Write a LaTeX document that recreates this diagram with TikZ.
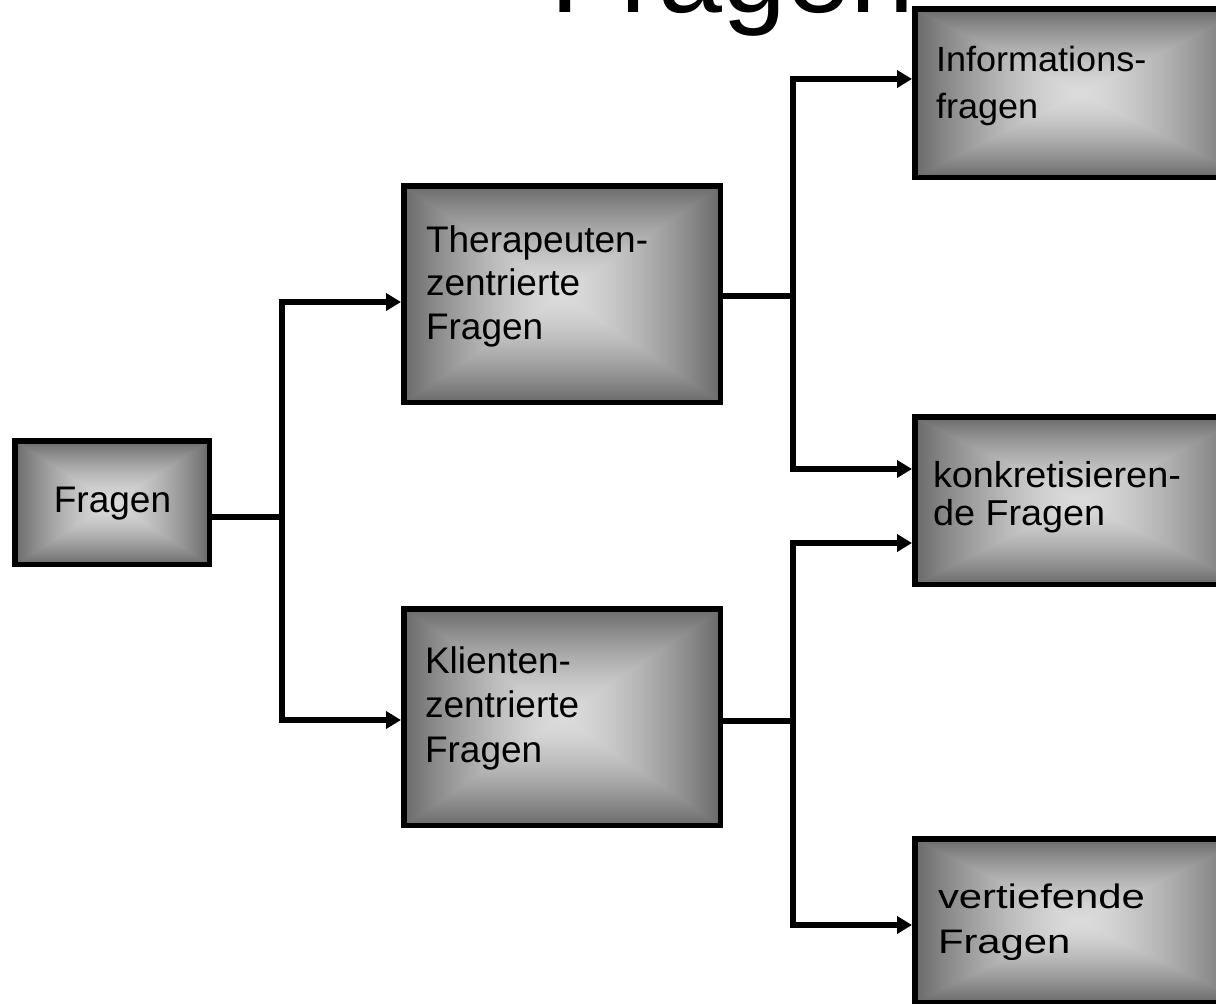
\documentclass[tikz,border=0pt]{standalone}
\usepackage{fontspec}
\setmainfont{Liberation Sans}
\usetikzlibrary{arrows.meta}

% Rectangular "from centre" glow: light in the middle, darker towards every edge,
% with the isolines being rectangles similar to the box.
\pgfdeclarefunctionalshading{boxglow}{\pgfpointorigin}{\pgfpoint{100bp}{100bp}}{}{
  50 sub abs exch 50 sub abs
  2 copy lt {exch} if pop
  25 div dup 1 gt {pop 1} if
  dup sqrt mul
  -0.445 mul 0.86 add
  dup dup
}

\tikzset{
  box/.style={draw=black, line width=5.5pt, rectangle, inner sep=0pt,
    outer sep=2.75pt, shade, shading=boxglow},
  conn/.style={line width=5.5pt, line join=miter},
  arr/.style={conn, -{Triangle[length=15pt, width=17pt]}},
  txt/.style={inner sep=0pt, outer sep=0pt},
  % multi-line texts: the base anchor sits on the last line
  mtxt/.style={txt, align=left, anchor=base west},
}

\begin{document}
\begin{tikzpicture}[x=1pt, y=-1pt]
  \useasboundingbox (0,0) rectangle (1216,1004);
  \fill[white] (0,0) rectangle (1216,1004);
  \clip (0,0) rectangle (1216,1004);

  % heading, mostly above the visible area
  \node[txt, anchor=base west, font=\fontsize{115}{130}\selectfont] (title) at (550,12) {Fragen};

  % boxes
  \node[box, minimum width=194.5pt, minimum height=123.5pt] (F)  at (112,502.5) {};
  \node[box, minimum width=316.5pt, minimum height=216.5pt] (T)  at (562,294) {};
  \node[box, minimum width=316.5pt, minimum height=216.5pt] (K)  at (562,717) {};
  \node[box, minimum width=330.5pt, minimum height=168.5pt] (I)  at (1080,93) {};
  \node[box, minimum width=330.5pt, minimum height=167.5pt] (Ko) at (1080,500.5) {};
  \node[box, minimum width=330.5pt, minimum height=163.5pt] (V)  at (1080,920.5) {};

  % box texts
  \node[txt, anchor=base, font=\fontsize{37}{43.5}\selectfont] (tF) at (112.5,512) {Fragen};
  \node[mtxt, font=\fontsize{37}{43.5}\selectfont] (tT) at (426,339)
    {Therapeuten-\\zentrierte\\Fragen};
  \node[mtxt, font=\fontsize{37}{44.5}\selectfont] (tK) at (425,762)
    {Klienten-\\zentrierte\\Fragen};
  \node[mtxt, font=\fontsize{35}{47}\selectfont, xscale=1.03, transform shape]
    (tI) at (936,118) {Informations-\\fragen};
  \node[mtxt, font=\fontsize{36}{38}\selectfont, xscale=1.05, transform shape]
    (tKo) at (933,525) {konkretisieren-\\de Fragen};
  \node[mtxt, font=\fontsize{34}{45}\selectfont, xscale=1.23, transform shape]
    (tV) at (938,953) {vertiefende\\Fragen};

  % junctions of the branching connectors
  \coordinate (j1) at (282,517);
  \coordinate (j2) at (793,296);
  \coordinate (j3) at (793,721);

  \draw[conn] (F.east |- j1) -- (j1);
  \draw[arr] (j1) |- (T.west |- 0,302);
  \draw[arr] (j1) |- (K.west |- 0,720);

  \draw[conn] (T.east |- j2) -- (j2);
  \draw[arr] (j2) |- (I.west |- 0,79);
  \draw[arr] (j2) |- (Ko.west |- 0,469);

  \draw[conn] (K.east |- j3) -- (j3);
  \draw[arr] (j3) |- (Ko.west |- 0,543);
  \draw[arr] (j3) |- (V.west |- 0,925);
\end{tikzpicture}
\end{document}
